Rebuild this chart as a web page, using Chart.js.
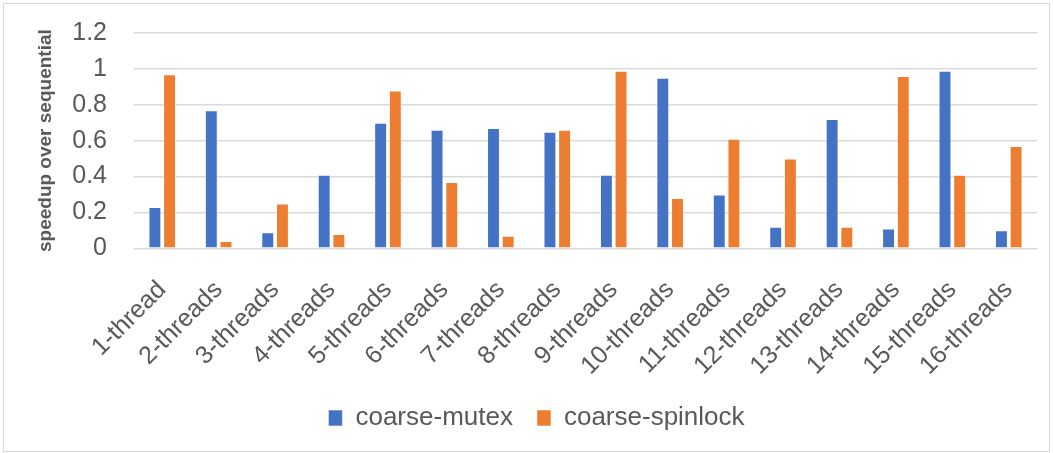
<!DOCTYPE html>
<html>
<head>
<meta charset="utf-8">
<script src="https://cdn.jsdelivr.net/npm/chart.js@4.4.1/dist/chart.umd.min.js"></script>
<style>
  html, body { margin: 0; padding: 0; background: #fff; }
  #wrap { position: relative; width: 1053px; height: 453px; }
  #frame { position: absolute; left: 3px; top: 3px; width: 1045px; height: 447px;
           border: 1px solid #d9d9d9; pointer-events: none; }
  canvas { position: absolute; left: 0; top: 0; }
</style>
</head>
<body>
<div id="wrap">
  <canvas id="c" width="1053" height="453"></canvas>
  <div id="frame"></div>
</div>
<script>
// Thread counts on the x axis
const categories = [
  '1-thread', '2-threads', '3-threads', '4-threads', '5-threads', '6-threads',
  '7-threads', '8-threads', '9-threads', '10-threads', '11-threads', '12-threads',
  '13-threads', '14-threads', '15-threads', '16-threads'
];

// Speedup over the sequential version, per lock type
const coarseMutex = [
  0.23, 0.77, 0.09, 0.41, 0.70, 0.66, 0.67, 0.65,
  0.41, 0.95, 0.30, 0.12, 0.72, 0.11, 0.99, 0.10
];
const coarseSpinlock = [
  0.97, 0.04, 0.25, 0.08, 0.88, 0.37, 0.07, 0.66,
  0.99, 0.28, 0.61, 0.50, 0.12, 0.96, 0.41, 0.57
];

// Value axis ticks
const yTicks = [0, 0.2, 0.4, 0.6, 0.8, 1, 1.2];

const seriesNames = ['coarse-mutex', 'coarse-spinlock'];
const seriesColors = ['#4472C4', '#ED7D31'];

const textColor = '#595959';
const fontFamily = '"Liberation Sans", Arial, sans-serif';
const clear = 'rgba(0,0,0,0)';

new Chart(document.getElementById('c'), {
  type: 'bar',
  data: {
    labels: categories,
    datasets: [coarseMutex, coarseSpinlock].map((values, i) => ({
      label: seriesNames[i],
      data: values,
      backgroundColor: seriesColors[i],
      borderColor: 'rgba(255,255,255,0.55)',
      borderWidth: 1,
      categoryPercentage: 0.52,
      barPercentage: 0.88
    }))
  },
  options: {
    responsive: false,
    devicePixelRatio: 1,
    animation: false,
    layout: { padding: { left: 36, right: 16, top: 33, bottom: 12 } },
    plugins: {
      tooltip: { enabled: false },
      legend: {
        position: 'bottom',
        labels: {
          color: textColor,
          font: { family: fontFamily, size: 26 },
          boxWidth: 14,
          boxHeight: 16,
          padding: 24
        }
      }
    },
    scales: {
      x: {
        // transparent tick marks set the gap between the plot and the slanted labels
        grid: { display: true, drawOnChartArea: false, color: clear,
                drawTicks: true, tickLength: 27, tickColor: clear },
        border: { display: false },
        ticks: {
          color: textColor,
          font: { family: fontFamily, size: 25 },
          minRotation: 45,
          maxRotation: 45,
          autoSkip: false,
          padding: 0
        }
      },
      y: {
        min: 0,
        max: 1.2,
        afterBuildTicks(scale) { scale.ticks = yTicks.map(v => ({ value: v })); },
        grid: { color: '#d9d9d9', lineWidth: 1.5, drawTicks: true, tickLength: 27, tickColor: clear },
        border: { display: false },
        ticks: {
          color: textColor,
          font: { family: fontFamily, size: 25 },
          padding: 0,
          autoSkip: false,
          callback: v => String(+v.toFixed(1))
        },
        title: {
          display: true,
          text: 'speedup over sequential',
          color: textColor,
          font: { family: fontFamily, size: 19, weight: 'bold', lineHeight: 1 },
          padding: { top: 0, bottom: 0 }
        },
        afterFit(scale) { scale.width = 98; }
      }
    }
  }
});
</script>
</body>
</html>
